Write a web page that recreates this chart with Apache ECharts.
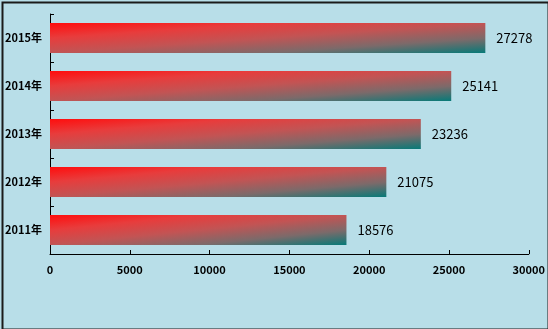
<!DOCTYPE html>
<html>
<head>
<meta charset="utf-8">
<script src="https://cdn.jsdelivr.net/npm/echarts@6/dist/echarts.min.js"></script>
<style>
html,body{margin:0;padding:0;background:#b8dee8;}
#c{width:548px;height:329px;}
</style>
</head>
<body>
<div id="c"></div>
<script>
var categories = ['2011年','2012年','2013年','2014年','2015年'];
var values = [18576, 21075, 23236, 25141, 27278];
var xTicks = [0, 5000, 10000, 15000, 20000, 25000, 30000];

var W = 548, H = 329;
var gridLeft = 50, gridRight = 18, gridTop = 14, gridBottom = 75;
var barH = 30;
var xMax = xTicks[xTicks.length - 1];
var plotW = W - gridLeft - gridRight;

function barColor(v) {
  var w = v / xMax * plotW, h = barH;
  var d = w * w + h * h;
  return new echarts.graphic.LinearGradient(0, 0, 2 * h * h / d, 2 * w * w / d, [
    {offset: 0, color: '#ff0d0d'},
    {offset: 0.25, color: '#e83c3c'},
    {offset: 0.5, color: '#c25454'},
    {offset: 0.75, color: '#7c6a6a'},
    {offset: 1, color: '#057a78'}
  ]);
}

var chart = echarts.init(document.getElementById('c'), null, {renderer: 'canvas'});
chart.setOption({
  backgroundColor: '#b8dee8',
  animation: false,
  graphic: [{
    type: 'rect', left: 0, top: 0, z: 100, silent: true,
    shape: {x: 1, y: 1, width: W - 2, height: H - 2},
    style: {fill: 'none', stroke: '#1a1a1a', lineWidth: 2}
  }],
  grid: {left: gridLeft, right: gridRight, top: gridTop, bottom: gridBottom, containLabel: false},
  xAxis: {
    type: 'value', min: 0, max: xMax, interval: 5000,
    axisLine: {show: true, lineStyle: {color: '#000', width: 1}},
    axisTick: {show: true, inside: true, length: 4, lineStyle: {color: '#000'}},
    splitLine: {show: false},
    axisLabel: {color: '#000', fontWeight: 'bold', fontSize: 11, margin: 10,
      fontFamily: 'Noto Sans CJK SC',
      formatter: function (v) { return String(v); }}
  },
  yAxis: {
    type: 'category', data: categories,
    axisLine: {show: true, lineStyle: {color: '#000', width: 1}},
    axisTick: {show: true, inside: true, length: 4, lineStyle: {color: '#000'}},
    axisLabel: {color: '#000', fontWeight: 'bold', fontSize: 11, margin: 8,
      fontFamily: 'Noto Sans CJK SC'}
  },
  series: [{
    type: 'bar',
    barWidth: barH,
    data: values.map(function (v) { return {value: v, itemStyle: {color: barColor(v)}}; }),
    label: {show: true, position: 'right', distance: 11, color: '#000',
      fontSize: 13, fontFamily: 'Noto Sans CJK SC'}
  }]
});
</script>
</body>
</html>
